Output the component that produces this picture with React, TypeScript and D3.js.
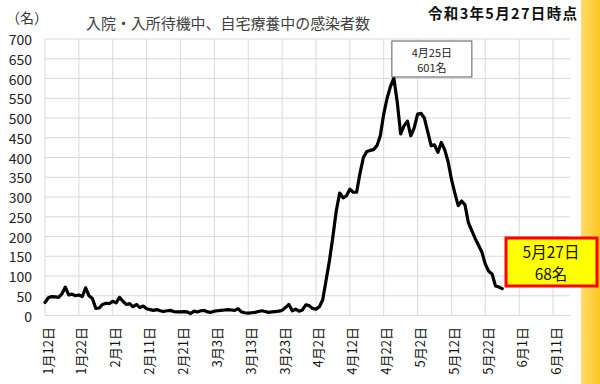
import React from "react";
import * as d3 from "d3";

const startDate = "2021-01-12";
const endDate = "2021-06-16";

// daily values from Jan 12 to May 27
const values: number[] = [
  33, 45, 48, 47, 46, 55, 72, 52, 54, 50,
  52, 48, 70, 50, 43, 18, 19, 28, 31, 30,
  36, 32, 46, 36, 28, 30, 22, 28, 20, 24,
  17, 15, 13, 15, 12, 10, 12, 13, 10, 9,
  9, 10, 9, 5, 11, 9, 12, 13, 9, 8,
  11, 12, 13, 14, 15, 14, 13, 17, 9, 7,
  6, 7, 8, 10, 12, 10, 8, 9, 10, 11,
  13, 20, 28, 12, 16, 11, 14, 27, 25, 18,
  16, 22, 40, 90, 140, 200, 265, 310, 298, 303,
  320, 312, 312, 360, 400, 415, 418, 420, 430, 455,
  510, 550, 580, 601, 540, 460, 480, 492, 455, 475,
  510, 512, 500, 465, 430, 432, 413, 438, 420, 390,
  345, 310, 278, 290, 280, 235, 215, 195, 178, 160,
  130, 112, 105, 75, 72, 68,
];

const tickDates = [
  "2021-01-12", "2021-01-22", "2021-02-01", "2021-02-11", "2021-02-21",
  "2021-03-03", "2021-03-13", "2021-03-23", "2021-04-02", "2021-04-12",
  "2021-04-22", "2021-05-02", "2021-05-12", "2021-05-22", "2021-06-01", "2021-06-11",
];
const tickLabels = [
  "1月12日", "1月22日", "2月1日", "2月11日", "2月21日",
  "3月3日", "3月13日", "3月23日", "4月2日", "4月12日",
  "4月22日", "5月2日", "5月12日", "5月22日", "6月1日", "6月11日",
];
const yTicks = [0, 50, 100, 150, 200, 250, 300, 350, 400, 450, 500, 550, 600, 650, 700];

const title = "入院・入所待機中、自宅療養中の感染者数";
const asOf = "令和3年5月27日時点";
const unit = "（名）";
const peakLabel = ["4月25日", "601名"];
const lastLabel = ["5月27日", "68名"];

const FONT = "'Noto Sans CJK JP', 'Noto Sans', sans-serif";

export default function App() {
  const parse = d3.utcParse("%Y-%m-%d");
  const start = parse(startDate)!;
  const data = values.map((v, i) => ({ d: d3.utcDay.offset(start, i), v }));
  const x = d3.scaleUtc().domain([start, parse(endDate)!]).range([45, 570]);
  const y = d3.scaleLinear().domain([0, 700]).range([315.5, 39]);
  const line = d3
    .line<{ d: Date; v: number }>()
    .x((p) => x(p.d))
    .y((p) => y(p.v));

  const peak = data.reduce((a, b) => (b.v > a.v ? b : a));
  const px = x(peak.d);

  return (
    <svg
      width={600}
      height={384}
      style={{ position: "absolute", left: 0, top: 0, background: "#fff" }}
      fontFamily={FONT}
    >
      <defs>
        <linearGradient id="strip" x1="0" x2="1" y1="0" y2="0">
          <stop offset="0%" stopColor="#FDDA6A" />
          <stop offset="100%" stopColor="#FFC61E" />
        </linearGradient>
      </defs>
      <rect x={0} y={0} width={600} height={384} fill="#fff" />
      <rect x={581} y={0} width={19} height={384} fill="url(#strip)" />

      {/* grid */}
      {yTicks.map((t) => (
        <line key={"h" + t} x1={45} x2={570} y1={y(t)} y2={y(t)} stroke="#d9d9d9" strokeWidth={1} />
      ))}
      {tickDates.map((t) => {
        const xx = x(parse(t)!);
        return <line key={"v" + t} x1={xx} x2={xx} y1={y(700)} y2={y(0)} stroke="#d9d9d9" strokeWidth={1} />;
      })}

      {/* y labels */}
      {yTicks.map((t) => (
        <text key={"yl" + t} x={32} y={y(t)} textAnchor="end" dominantBaseline="central" fontSize={14} fill="#222">
          {t}
        </text>
      ))}

      {/* x labels */}
      {tickDates.map((t, i) => {
        const xx = x(parse(t)!) + 2;
        return (
          <text
            key={"xl" + t}
            transform={`translate(${xx},327) rotate(-90)`}
            textAnchor="end"
            dominantBaseline="central"
            fontSize={13}
            fill="#111"
          >
            {tickLabels[i]}
          </text>
        );
      })}

      {/* line */}
      <path d={line(data) || ""} fill="none" stroke="#000" strokeWidth={3.2} strokeLinejoin="round" strokeLinecap="round" />

      {/* titles */}
      <text x={6} y={23} fontSize={14} fill="#333">{unit}</text>
      <text x={86} y={29} fontSize={15} fill="#404040" textLength={284} lengthAdjust="spacing">{title}</text>
      <text x={428} y={19} fontSize={14.5} fontWeight="bold" fill="#111" textLength={149} lengthAdjust="spacing">{asOf}</text>

      {/* peak callout */}
      <rect x={px - 2} y={41} width={80} height={36} fill="#fff" stroke="#595959" strokeWidth={1} />
      <text x={px + 38} y={57} textAnchor="middle" fontSize={11} fill="#222">{peakLabel[0]}</text>
      <text x={px + 38} y={72} textAnchor="middle" fontSize={11} fill="#222">{peakLabel[1]}</text>

      {/* last value callout */}
      <rect x={506} y={238} width={91} height={48} fill="#FFFF00" stroke="#FF0000" strokeWidth={3} />
      <text x={551} y={258} textAnchor="middle" fontSize={15.5} fill="#111">{lastLabel[0]}</text>
      <text x={551} y={280} textAnchor="middle" fontSize={15.5} fill="#111">{lastLabel[1]}</text>
    </svg>
  );
}
